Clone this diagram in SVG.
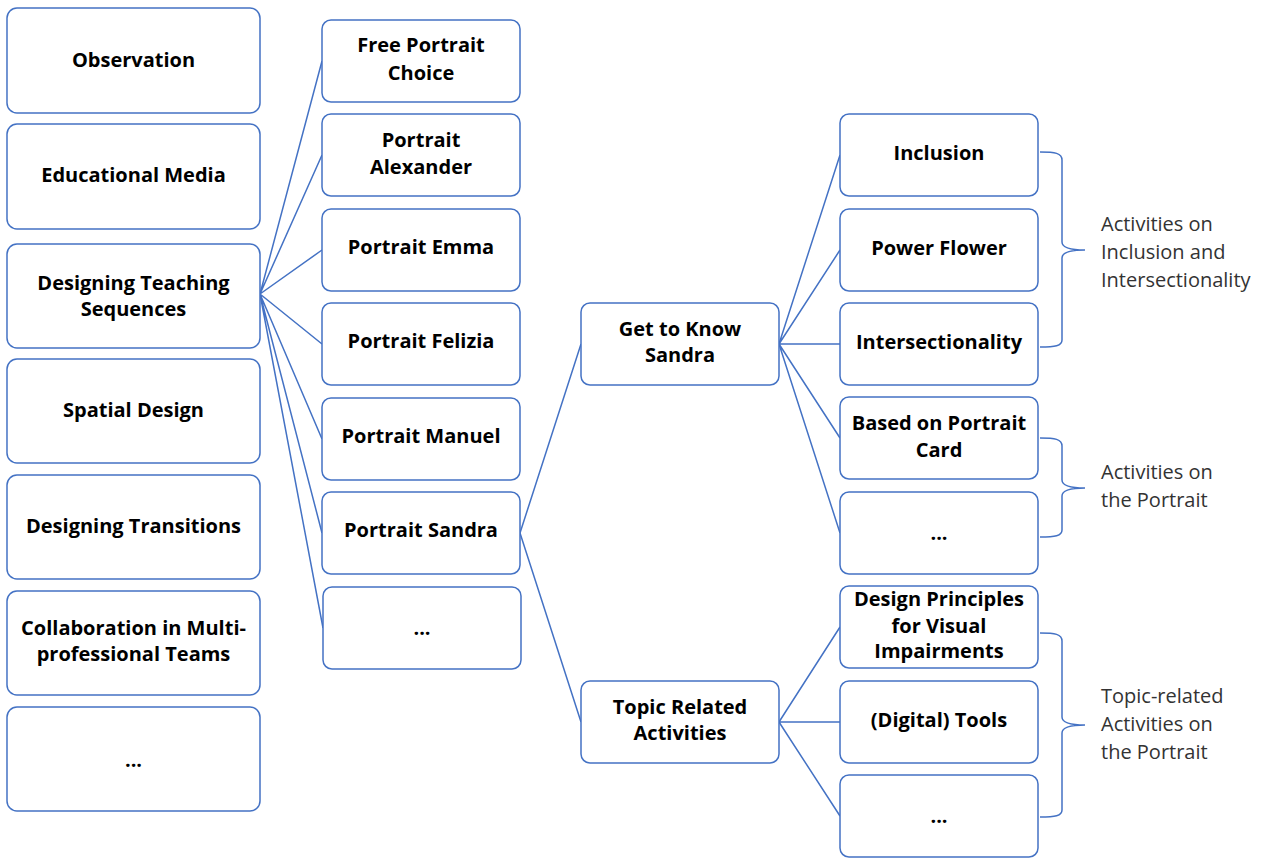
<svg xmlns="http://www.w3.org/2000/svg" width="1266" height="858" viewBox="0 0 1266 858">
<style>
.box{fill:#fff;stroke:#4472C4;stroke-width:1.5}
.t{font-family:"Open Sans","Liberation Sans",sans-serif;font-weight:bold;font-size:20px;fill:#000;text-anchor:middle}
.lbl{font-family:"Open Sans","Liberation Sans",sans-serif;font-size:20px;fill:#333}
.c{fill:none;stroke:#4472C4;stroke-width:1.5}
</style>
<rect width="1266" height="858" fill="#fff"/>
<g id="connectors" class="c">
<path d="M260,294L322,61M260,294L322,155M260,294L322,250M260,294L322,344M260,294L322,439M260,294L322,533M260,294L323,628"/>
<path d="M520,533L581,344M520,533L581,722"/>
<path d="M779,344L840,155M779,344L840,250M779,344L840,344M779,344L840,438M779,344L840,533"/>
<path d="M779,722L840,627M779,722L840,722M779,722L840,816"/>
<path d="M1040,152C1055,152 1062,153 1062,160V242C1062,248 1070,250 1085,250C1070,250 1062,252 1062,258V340C1062,346 1055,347 1040,347"/>
<path d="M1040,438C1055,438 1062,439 1062,446V480C1062,486 1070,488 1085,488C1070,488 1062,490 1062,496V530C1062,536 1055,537 1040,537"/>
<path d="M1040,633C1055,633 1062,634 1062,641V717C1062,723 1070,725 1085,725C1070,725 1062,727 1062,733V810C1062,816 1055,817 1040,817"/>
</g>
<g id="n-observation"><rect class="box" x="7" y="8" width="253" height="105" rx="10"/><text class="t" x="133.5" y="67">Observation</text></g>
<g id="n-media"><rect class="box" x="7" y="124" width="253" height="105" rx="10"/><text class="t" x="133.5" y="182">Educational Media</text></g>
<g id="n-designing"><rect class="box" x="7" y="244" width="253" height="104" rx="10"/><text class="t" x="133.5" y="290">Designing Teaching</text><text class="t" x="133.5" y="316">Sequences</text></g>
<g id="n-spatial"><rect class="box" x="7" y="359" width="253" height="104" rx="10"/><text class="t" x="133.5" y="417">Spatial Design</text></g>
<g id="n-transitions"><rect class="box" x="7" y="475" width="253" height="104" rx="10"/><text class="t" x="133.5" y="533">Designing Transitions</text></g>
<g id="n-collab"><rect class="box" x="7" y="591" width="253" height="104" rx="10"/><text class="t" x="133.5" y="635">Collaboration in Multi-</text><text class="t" x="133.5" y="661">professional Teams</text></g>
<g id="n-left-more"><rect class="box" x="7" y="707" width="253" height="104" rx="10"/><text class="t" x="133.5" y="767">...</text></g>

<g id="n-free"><rect class="box" x="322" y="20" width="198" height="82" rx="9"/><text class="t" x="421" y="52">Free Portrait</text><text class="t" x="421" y="80">Choice</text></g>
<g id="n-alexander"><rect class="box" x="322" y="114" width="198" height="82" rx="9"/><text class="t" x="421" y="147">Portrait</text><text class="t" x="421" y="174">Alexander</text></g>
<g id="n-emma"><rect class="box" x="322" y="209" width="198" height="82" rx="9"/><text class="t" x="421" y="254">Portrait Emma</text></g>
<g id="n-felizia"><rect class="box" x="322" y="303" width="198" height="82" rx="9"/><text class="t" x="421" y="348">Portrait Felizia</text></g>
<g id="n-manuel"><rect class="box" x="322" y="398" width="198" height="82" rx="9"/><text class="t" x="421" y="443">Portrait Manuel</text></g>
<g id="n-sandra"><rect class="box" x="322" y="492" width="198" height="82" rx="9"/><text class="t" x="421" y="537">Portrait Sandra</text></g>
<g id="n-mid-more"><rect class="box" x="323" y="587" width="198" height="82" rx="9"/><text class="t" x="422" y="635">...</text></g>

<g id="n-getknow"><rect class="box" x="581" y="303" width="198" height="82" rx="9"/><text class="t" x="680" y="336">Get to Know</text><text class="t" x="680" y="362">Sandra</text></g>
<g id="n-topic"><rect class="box" x="581" y="681" width="198" height="82" rx="9"/><text class="t" x="680" y="714">Topic Related</text><text class="t" x="680" y="740">Activities</text></g>

<g id="n-inclusion"><rect class="box" x="840" y="114" width="198" height="82" rx="9"/><text class="t" x="939" y="160">Inclusion</text></g>
<g id="n-power"><rect class="box" x="840" y="209" width="198" height="82" rx="9"/><text class="t" x="939" y="255">Power Flower</text></g>
<g id="n-intersect"><rect class="box" x="840" y="303" width="198" height="82" rx="9"/><text class="t" x="939" y="349">Intersectionality</text></g>
<g id="n-card"><rect class="box" x="840" y="397" width="198" height="82" rx="9"/><text class="t" x="939" y="430">Based on Portrait</text><text class="t" x="939" y="457">Card</text></g>
<g id="n-r-more1"><rect class="box" x="840" y="492" width="198" height="82" rx="9"/><text class="t" x="939" y="540">...</text></g>
<g id="n-design"><rect class="box" x="840" y="586" width="198" height="82" rx="9"/><text class="t" x="939" y="606">Design Principles</text><text class="t" x="939" y="633">for Visual</text><text class="t" x="939" y="658">Impairments</text></g>
<g id="n-tools"><rect class="box" x="840" y="681" width="198" height="82" rx="9"/><text class="t" x="939" y="727">(Digital) Tools</text></g>
<g id="n-r-more2"><rect class="box" x="840" y="775" width="198" height="82" rx="9"/><text class="t" x="939" y="823">...</text></g>

<g id="labels">
<text class="lbl" x="1101" y="231">Activities on</text>
<text class="lbl" x="1101" y="259">Inclusion and</text>
<text class="lbl" x="1101" y="287">Intersectionality</text>
<text class="lbl" x="1101" y="479">Activities on</text>
<text class="lbl" x="1101" y="507">the Portrait</text>
<text class="lbl" x="1101" y="703">Topic-related</text>
<text class="lbl" x="1101" y="731">Activities on</text>
<text class="lbl" x="1101" y="759">the Portrait</text>
</g>
</svg>
